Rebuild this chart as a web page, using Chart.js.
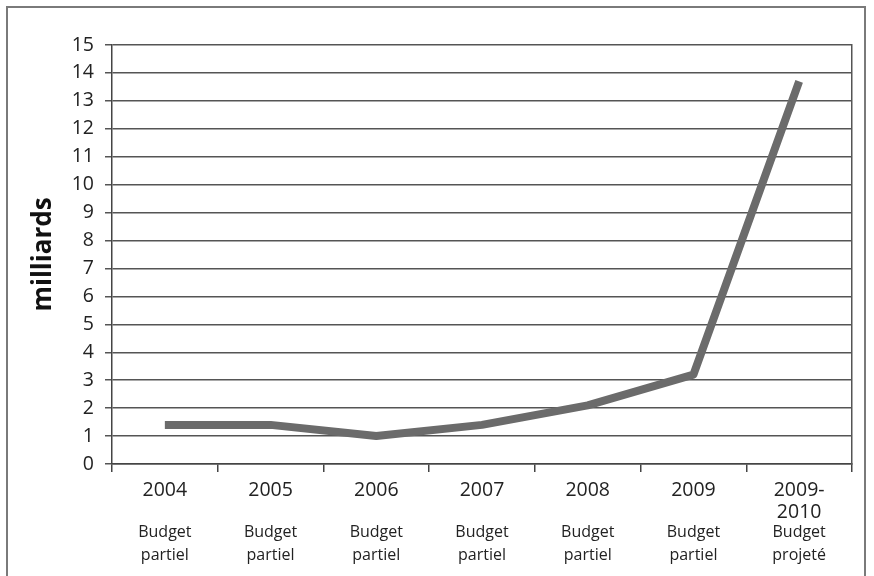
<!DOCTYPE html>
<html>
<head>
<meta charset="utf-8">
<script src="https://cdn.jsdelivr.net/npm/chart.js@4"></script>
<style>
  body { margin: 0; background: #fff; }
  #wrap { position: relative; width: 874px; height: 576px; }
  #frame { position: absolute; left: 6px; top: 6px; width: 860px; height: 580px; border: 2px solid #7a7a7a; box-sizing: border-box; }
  canvas { position: absolute; left: 0; top: 0; }
</style>
</head>
<body>
<div id="wrap">
  <div id="frame"></div>
  <canvas id="budgetChart" width="874" height="576"></canvas>
</div>
<script>
var years = [["2004"], ["2005"], ["2006"], ["2007"], ["2008"], ["2009"], ["2009-", "2010"]];
var budgetTypes = [["Budget", "partiel"], ["Budget", "partiel"], ["Budget", "partiel"], ["Budget", "partiel"], ["Budget", "partiel"], ["Budget", "partiel"], ["Budget", "projeté"]];
var milliards = [1.4, 1.4, 1.0, 1.4, 2.1, 3.2, 13.7];

Chart.defaults.font.family = "Open Sans";
Chart.defaults.color = "#222";

var ctx = document.getElementById("budgetChart");

new Chart(ctx, {
  type: "line",
  data: {
    labels: years,
    datasets: [{
      label: "milliards",
      data: milliards,
      borderColor: "#6b6b6b",
      borderWidth: 8,
      borderCapStyle: "butt",
      borderJoinStyle: "round",
      pointRadius: 0,
      tension: 0,
      xAxisID: "x",
      yAxisID: "y"
    }]
  },
  options: {
    responsive: false,
    animation: false,
    layout: { padding: { top: 45, right: 22, left: 0, bottom: 0 } },
    plugins: { legend: { display: false }, tooltip: { enabled: false } },
    scales: {
      x: {
        type: "category",
        position: "bottom",
        offset: true,
        grid: { drawOnChartArea: false, offset: true, color: "#444", lineWidth: 1.5, tickLength: 8 },
        border: { color: "#444", width: 1.5 },
        ticks: { font: { size: 19.5, lineHeight: 1.1 }, padding: 8, maxRotation: 0, autoSkip: false, color: "#222" },
        afterFit: function (s) { s.height = 58; }
      },
      x2: {
        type: "category",
        position: "bottom",
        labels: budgetTypes,
        offset: true,
        grid: { display: false, drawTicks: false, tickLength: 0 },
        border: { display: false },
        ticks: { font: { size: 16, lineHeight: 1.45 }, padding: -1, maxRotation: 0, autoSkip: false, color: "#222" },
        afterFit: function (s) { s.height = 54; }
      },
      y: {
        min: 0,
        max: 15,
        position: "left",
        grid: { color: "#555", lineWidth: 1.5, tickLength: 7 },
        border: { color: "#444", width: 1.5 },
        ticks: { stepSize: 1, font: { size: 19.5 }, padding: 11, color: "#222" },
        title: { display: true, text: "milliards", font: { size: 26, weight: "bold" }, color: "#111", padding: { top: 28, bottom: 0 } },
        afterFit: function (s) { s.width = 112; }
      },
      yRight: {
        min: 0,
        max: 15,
        position: "right",
        grid: { display: false },
        border: { color: "#555", width: 1.5 },
        ticks: { display: false },
        afterFit: function (s) { s.width = 0; }
      }
    }
  }
});
</script>
</body>
</html>
